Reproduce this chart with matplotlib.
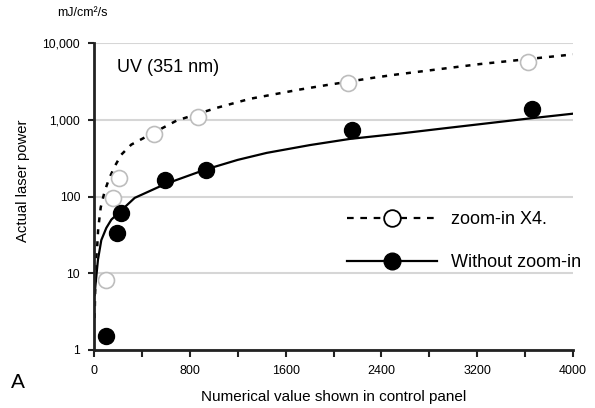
#!/usr/bin/env python3
import matplotlib
matplotlib.use('Agg')
import matplotlib.pyplot as plt
from matplotlib.lines import Line2D
from matplotlib.ticker import FuncFormatter, MultipleLocator, NullLocator

plt.rcParams['font.family'] = ['Liberation Sans', 'DejaVu Sans']

# measured points
zoom_x = [98, 156, 211, 504, 871, 2125, 3622]
zoom_y = [8.05, 95, 175, 660, 1100, 3000, 5600]
plain_x = [98, 190, 225, 593, 933, 2152, 3655]
plain_y = [1.54, 33, 61, 162, 219, 729, 1372]

# trend curves
zoom_trend_x = [5, 10, 14, 25, 35, 56, 89, 125, 173, 228, 311, 496, 691, 1025, 1303,
                1720, 1943, 2333, 2528, 3223, 4000]
zoom_trend_y = [2.6, 6.1, 13.7, 20, 38, 72, 117, 169, 247, 351, 474, 675, 977, 1430, 1875,
                2478, 2830, 3524, 3890, 5315, 7100]
plain_trend_x = [6, 11, 33, 61, 103, 145, 340, 593, 933, 1200, 1442, 1804, 2138, 2555,
                 2945, 3613, 4000]
plain_trend_y = [5.2, 6.7, 15, 27, 39, 50, 96, 145, 225, 300, 370, 468, 563, 661,
                 780, 1030, 1200]

y_ticks = [1, 10, 100, 1000, 10000]

fig = plt.figure(figsize=(5.95, 4.08), dpi=100)
ax = fig.add_axes([94/595, 1 - 350/408, 479/595, 307/408])

ax.plot(zoom_trend_x, zoom_trend_y, c='black', lw=1.8, ls=(0, (2, 2.8)), zorder=3)
ax.plot(plain_trend_x, plain_trend_y, c='black', lw=1.6, zorder=3)
ax.plot(zoom_x, zoom_y, 'o', ms=11.5, mfc='white', mec='#bdbdbd', mew=1.2, zorder=4)
ax.plot(plain_x, plain_y, 'o', ms=11.5, mfc='black', mec='black', zorder=4)

ax.set_yscale('log')
ax.set_ylim(1, 10000)
ax.set_xlim(0, 4000)
ax.set_yticks(y_ticks)
ax.yaxis.set_minor_locator(NullLocator())
ax.yaxis.set_major_formatter(FuncFormatter(lambda v, p: '{:,.0f}'.format(v)))
ax.xaxis.set_major_locator(MultipleLocator(800))
ax.xaxis.set_minor_locator(MultipleLocator(400))
ax.grid(True, axis='y', color='#d6d6d6', lw=1.5)
ax.set_axisbelow(True)

for s in ['top', 'right']:
    ax.spines[s].set_visible(False)
for s in ['left', 'bottom']:
    ax.spines[s].set_linewidth(2)
    ax.spines[s].set_color('#222222')
    ax.spines[s].set_zorder(5)

ax.tick_params(axis='both', which='both', direction='out', width=1.5, color='#222222')
ax.tick_params(axis='x', which='both', length=5, pad=6, labelsize=9)
ax.tick_params(axis='y', length=4, pad=6, labelsize=8.7)

ax.set_xlabel('Numerical value shown in control panel', fontsize=11, labelpad=9)
fig.text(23/595, 1 - 181/408, 'Actual laser power', rotation=90, fontsize=10.7,
         ha='center', va='center')
fig.text(57/595, 1 - 13/408, 'mJ/cm²/s', fontsize=9, ha='left', va='center')
fig.text(11/595, 1 - 382/408, 'A', fontsize=15, ha='left', va='center')
ax.text(117/595, 1 - 68/408, 'UV (351 nm)', fontsize=13, ha='left', va='center',
        transform=fig.transFigure)

handles = [
    Line2D([], [], c='black', lw=1.6, ls=(0, (3, 3)), marker='o', ms=12,
           mfc='white', mec='black', mew=1.3),
    Line2D([], [], c='black', lw=1.6, marker='o', ms=12, mfc='black', mec='black'),
]
ax.legend(handles, ['zoom-in X4.', 'Without zoom-in'], loc='upper left',
          bbox_to_anchor=(347/595, 1 - 211/408), bbox_transform=fig.transFigure,
          frameon=False, fontsize=13, handlelength=5.0, handletextpad=0.75,
          labelspacing=1.45, borderpad=0, borderaxespad=0)

fig.savefig('out.png', dpi=100)
